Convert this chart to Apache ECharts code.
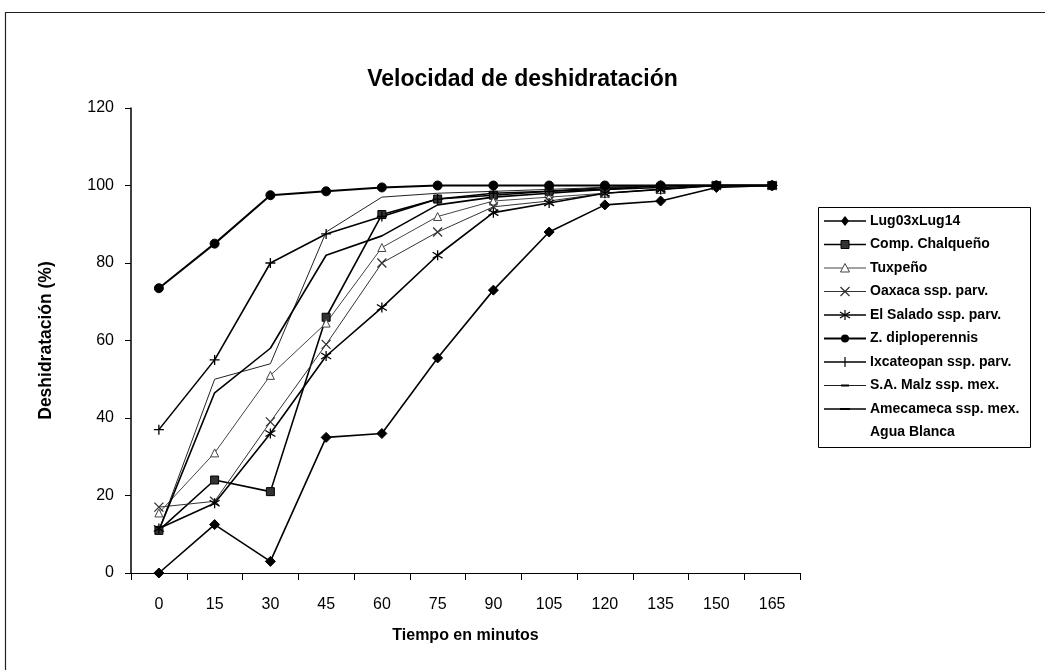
<!DOCTYPE html>
<html>
<head>
<meta charset="utf-8">
<script src="https://cdn.jsdelivr.net/npm/echarts@6/dist/echarts.min.js"></script>
<style>
  html, body { margin: 0; padding: 0; background: #fff; }
  #chart { width: 1045px; height: 670px; }
</style>
</head>
<body>
<div id="chart"></div>
<script>
var minutos = ['0', '15', '30', '45', '60', '75', '90', '105', '120', '135', '150', '165'];
var yTicks = [0, 20, 40, 60, 80, 100, 120];

// valores (%)
var lug03 = [0, 12.5, 3, 35, 36, 55.5, 73, 88, 95, 96, 99.5, 100];
var chalqueno = [11, 24, 21, 66, 92.5, 96.5, 97.5, 98.5, 99, 99.5, 100, 100];
var tuxpeno = [15.5, 31, 51, 64.5, 84, 92, 96, 97, 98, 99, 100, 100];
var oaxaca = [17, 18.5, 39, 59, 80, 88, 94.5, 96, 98, 99, 100, 100];
var salado = [11.5, 18, 36, 56, 68.5, 82, 93, 95.5, 98, 99, 100, 100];
var diploperennis = [73.5, 85, 97.5, 98.5, 99.5, 100, 100, 100, 100, 100, 100, 100];
var ixcateopan = [37, 55, 80, 87.5, 92, 96.5, 98, 98.5, 99.5, 100, 100, 100];
var saMalz = [11, 50, 54, 88, 97, 98, 98.5, 99, 99.5, 100, 100, 100];
var amecameca = [11, 46.5, 58, 82, 87, 95, 97, 98, 99, 100, 100, 100];
var aguaBlanca = [12, 35, 55, 75, 90, 96, 98, 99, 100, 100, 100, 100];

var fuente = '"Liberation Sans", Arial, sans-serif';

// simbolos de trazo (se pintan con borde)
var cruz = 'path://M0,0L10,10M10,0L0,10';
var asterisco = 'path://M5,0L5,10M0,2L10,8M0,8L10,2';
var mas = 'path://M5,0L5,10M0,5L10,5';
var guion = 'path://M0,5L10,5';

// estilo de cada serie: [nombre, datos, simbolo, tamano, grosor, color, relleno, trazo]
var estilos = [
  ['Lug03xLug14', lug03, 'diamond', 10, 1.6, '#000', '#000', false],
  ['Comp. Chalqueño', chalqueno, 'rect', 8, 1.6, '#000', '#333', false],
  ['Tuxpeño', tuxpeno, 'triangle', 8, 1, '#444', '#fff', false],
  ['Oaxaca ssp. parv.', oaxaca, cruz, 9, 1, '#333', null, true],
  ['El Salado ssp. parv.', salado, asterisco, 10, 1.6, '#000', null, true],
  ['Z. diploperennis', diploperennis, 'circle', 9, 2, '#000', '#000', false],
  ['Ixcateopan ssp. parv.', ixcateopan, mas, 10, 1.6, '#000', null, true],
  ['S.A. Malz ssp. mex.', saMalz, guion, 8, 1, '#222', null, true],
  ['Amecameca ssp. mex.', amecameca, guion, 10, 1.6, '#000', null, true],
  ['Agua Blanca', aguaBlanca, 'none', 1, 1, '#fff', null, true]
];

var series = estilos.map(function (e) {
  var invisible = e[0] === 'Agua Blanca';
  return {
    name: e[0],
    type: 'line',
    data: e[1],
    symbol: e[2],
    symbolSize: e[3],
    z: invisible ? 1 : 2,
    lineStyle: { color: e[5], width: e[4], opacity: invisible ? 0 : 1 },
    itemStyle: e[7] ? { color: 'rgba(0,0,0,0)', borderColor: e[5], borderWidth: 1.3 }
      : { color: e[6], borderColor: e[5], borderWidth: 1 }
  };
});

// leyenda dibujada a mano (caja con linea + marcador + texto)
var legX = 818, legY = 207, legPaso = 23.5;
function iconoLeyenda(i, e) {
  var y = legY + 14 + i * legPaso;
  var cx = 845;
  var trazo = { stroke: e[5], lineWidth: 1.2 };
  var els = [];
  if (e[0] !== 'Agua Blanca') {
    els.push({ type: 'line', shape: { x1: 824, y1: y, x2: 866, y2: y }, style: { stroke: e[5], lineWidth: e[4] } });
  }
  var s = e[2];
  if (s === 'diamond') {
    els.push({ type: 'polygon', shape: { points: [[cx, y - 5], [cx + 4, y], [cx, y + 5], [cx - 4, y]] }, style: { fill: '#000' } });
  } else if (s === 'rect') {
    els.push({ type: 'rect', shape: { x: cx - 4, y: y - 4, width: 8, height: 8 }, style: { fill: '#333', stroke: '#000', lineWidth: 1 } });
  } else if (s === 'triangle') {
    els.push({ type: 'polygon', shape: { points: [[cx, y - 4.5], [cx + 4.5, y + 4], [cx - 4.5, y + 4]] }, style: { fill: '#fff', stroke: '#444', lineWidth: 1 } });
  } else if (s === cruz) {
    els.push({ type: 'line', shape: { x1: cx - 4.5, y1: y - 4.5, x2: cx + 4.5, y2: y + 4.5 }, style: trazo });
    els.push({ type: 'line', shape: { x1: cx + 4.5, y1: y - 4.5, x2: cx - 4.5, y2: y + 4.5 }, style: trazo });
  } else if (s === asterisco) {
    els.push({ type: 'line', shape: { x1: cx, y1: y - 5, x2: cx, y2: y + 5 }, style: trazo });
    els.push({ type: 'line', shape: { x1: cx - 5, y1: y - 3, x2: cx + 5, y2: y + 3 }, style: trazo });
    els.push({ type: 'line', shape: { x1: cx - 5, y1: y + 3, x2: cx + 5, y2: y - 3 }, style: trazo });
  } else if (s === 'circle') {
    els.push({ type: 'circle', shape: { cx: cx, cy: y, r: 4 }, style: { fill: '#000' } });
  } else if (s === mas) {
    els.push({ type: 'line', shape: { x1: cx, y1: y - 5, x2: cx, y2: y + 5 }, style: trazo });
  } else if (s === guion) {
    els.push({ type: 'line', shape: { x1: cx - e[3] / 2, y1: y, x2: cx + e[3] / 2, y2: y }, style: { stroke: '#000', lineWidth: 2 } });
  }
  els.push({
    type: 'text',
    style: { text: e[0], x: 870, y: y, verticalAlign: 'middle', align: 'left', fill: '#000', fontFamily: fuente, fontSize: 14, fontWeight: 'bold' }
  });
  return els;
}

var leyenda = [{
  type: 'rect',
  shape: { x: legX + 0.5, y: legY + 0.5, width: 212, height: 240 },
  style: { fill: '#fff', stroke: '#000', lineWidth: 1 }
}];
estilos.forEach(function (e, i) {
  leyenda = leyenda.concat(iconoLeyenda(i, e));
});

var chart = echarts.init(document.getElementById('chart'));
chart.setOption({
  animation: false,
  title: {
    text: 'Velocidad de deshidratación',
    left: 'center',
    top: 63,
    textStyle: { fontFamily: fuente, fontSize: 23, fontWeight: 'bold', color: '#000' }
  },
  graphic: [{
    type: 'rect',
    shape: { x: 5.5, y: 12.5, width: 1100, height: 700 },
    style: { fill: 'none', stroke: '#222', lineWidth: 1.2 },
    silent: true
  }, {
    type: 'group',
    silent: true,
    children: leyenda
  }],
  grid: { left: 131, right: 245, top: 108, bottom: 97 },
  xAxis: {
    type: 'category',
    data: minutos,
    boundaryGap: true,
    name: 'Tiempo en minutos',
    nameLocation: 'middle',
    nameGap: 55,
    nameTextStyle: { fontFamily: fuente, fontSize: 16, fontWeight: 'bold', color: '#000' },
    axisLine: { lineStyle: { color: '#000', width: 1.2 } },
    axisTick: { show: true, length: 7, lineStyle: { color: '#000' } },
    axisLabel: { fontFamily: fuente, fontSize: 16, color: '#000', margin: 24 },
    splitLine: { show: false }
  },
  yAxis: {
    type: 'value',
    min: yTicks[0],
    max: yTicks[yTicks.length - 1],
    interval: yTicks[1] - yTicks[0],
    name: 'Deshidratación (%)',
    nameLocation: 'middle',
    nameGap: 76,
    nameTextStyle: { fontFamily: fuente, fontSize: 17.5, fontWeight: 'bold', color: '#000' },
    axisLine: { show: true, lineStyle: { color: '#000', width: 1.5 } },
    axisTick: { show: true, length: 6, lineStyle: { color: '#000' } },
    axisLabel: { fontFamily: fuente, fontSize: 16, color: '#000', margin: 17 },
    splitLine: { show: false }
  },
  series: series
});
</script>
</body>
</html>
